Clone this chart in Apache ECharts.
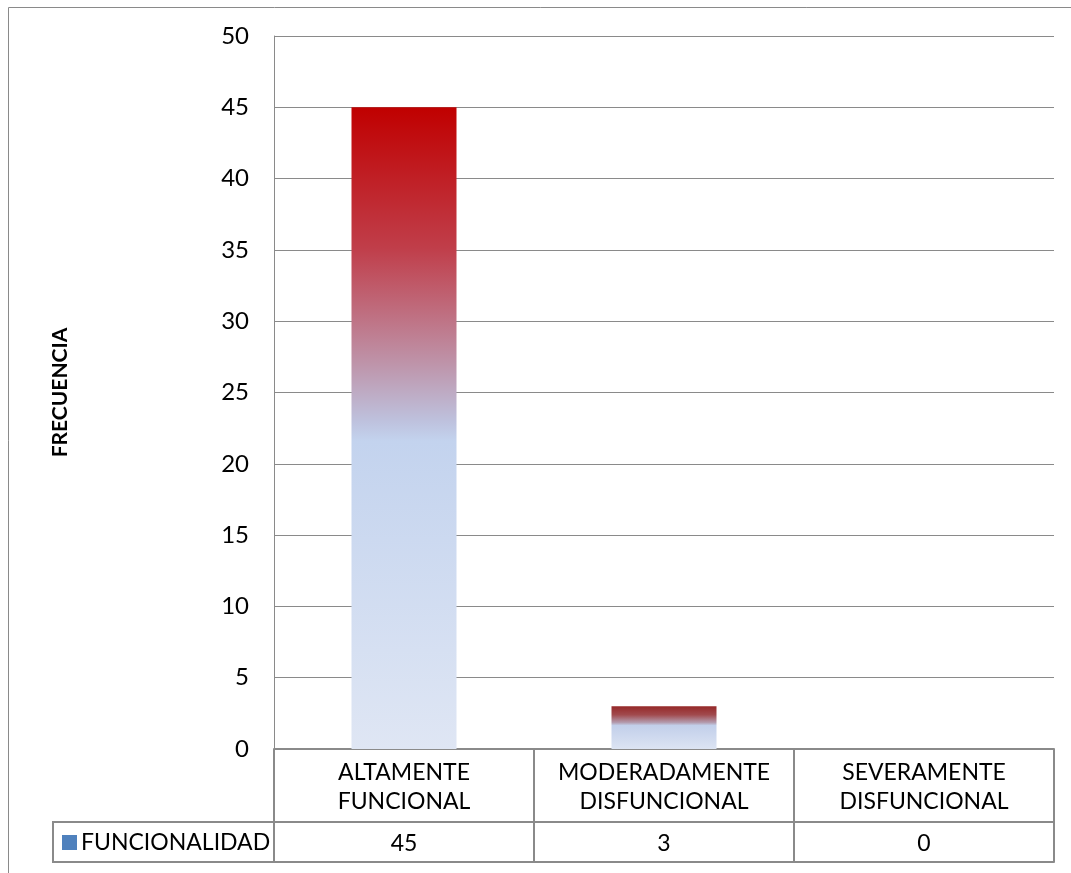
<!DOCTYPE html>
<html>
<head>
<meta charset="utf-8">
<script src="https://cdn.jsdelivr.net/npm/echarts@6/dist/echarts.min.js"></script>
<style>
  html, body { margin: 0; padding: 0; background: #fff; }
  #chart { width: 1071px; height: 873px; }
</style>
</head>
<body>
<div id="chart"></div>
<script>
// Chart data
const categories = ['ALTAMENTE\nFUNCIONAL', 'MODERADAMENTE\nDISFUNCIONAL', 'SEVERAMENTE\nDISFUNCIONAL'];
const seriesName = 'FUNCIONALIDAD';
const values = [45, 3, 0];
const yTicks = { min: 0, max: 50, step: 5 };

const FONT = 'Lato';
const LINE = '#8a8a8a';

// Red-to-blue vertical fill used by the columns
function columnFill(stops) {
  return new echarts.graphic.LinearGradient(0, 0, 0, 1, stops.map(s => ({ offset: s[0], color: s[1] })));
}
const fills = [
  columnFill([[0, '#C00000'], [0.22, '#C03E4A'], [0.4, '#BE94AA'], [0.49, '#BEC2DE'], [0.52, '#C3D3EE'], [1, '#DFE6F4']]),
  columnFill([[0, '#952828'], [0.2, '#A14A4E'], [0.38, '#B39BAE'], [0.45, '#C2CFEA'], [1, '#DCE4F3']]),
  columnFill([[0, '#C00000'], [0.5, '#C3D3EE'], [1, '#DFE6F4']])
];

const chart = echarts.init(document.getElementById('chart'));
chart.setOption({
  animation: false,
  textStyle: { fontFamily: FONT },
  grid: { left: 274, right: 17, top: 36, bottom: 124, containLabel: false },
  legend: {
    data: [{ name: seriesName, itemStyle: { color: '#4F81BD' } }],
    left: 62, top: 831, padding: 0,
    itemWidth: 15, itemHeight: 15, itemGap: 5,
    icon: 'rect',
    textStyle: { fontFamily: FONT, fontSize: 23, color: '#000', padding: [0, 0, 0, -1] }
  },
  xAxis: [
    {
      type: 'category', data: categories, position: 'bottom',
      axisLine: { show: true, lineStyle: { color: LINE, width: 2 } },
      axisTick: { show: true, length: 113, lineStyle: { color: LINE, width: 2 } },
      axisLabel: { fontFamily: FONT, fontSize: 23, color: '#000', lineHeight: 29, margin: 9, interval: 0 }
    },
    {
      type: 'category', data: categories, position: 'bottom', offset: 73,
      axisLine: { show: true, lineStyle: { color: LINE, width: 2 } },
      axisTick: { show: false },
      axisLabel: {
        fontFamily: FONT, fontSize: 23, color: '#000', margin: 10, interval: 0,
        formatter: (v, i) => String(values[i])
      }
    },
    {
      type: 'category', data: categories, position: 'bottom', offset: 113,
      axisLine: { show: true, lineStyle: { color: LINE, width: 2 } },
      axisTick: { show: false }, axisLabel: { show: false }
    }
  ],
  yAxis: {
    type: 'value', min: yTicks.min, max: yTicks.max, interval: yTicks.step,
    name: 'FRECUENCIA', nameLocation: 'middle', nameGap: 203, nameRotate: 90,
    nameTextStyle: { fontFamily: FONT, fontSize: 21, fontWeight: 'bold', color: '#000' },
    axisLine: { show: true, lineStyle: { color: LINE, width: 1 } },
    axisTick: { show: false },
    axisLabel: { fontFamily: FONT, fontSize: 24, color: '#000', margin: 25 },
    splitLine: { show: true, lineStyle: { color: LINE, width: 1 } }
  },
  series: [{
    name: seriesName, type: 'bar', barWidth: 105,
    data: values.map((v, i) => ({ value: v, itemStyle: { color: fills[i] } }))
  }],
  graphic: [
    // chart frame
    { type: 'rect', shape: { x: 8.5, y: 7.5, width: 1100, height: 900 }, style: { fill: null, stroke: LINE, lineWidth: 1 }, silent: true },
    // legend key cell of the data table
    { type: 'rect', shape: { x: 53, y: 822, width: 221, height: 40 }, style: { fill: null, stroke: LINE, lineWidth: 2 }, silent: true, z: 0 }
  ]
});
</script>
</body>
</html>
